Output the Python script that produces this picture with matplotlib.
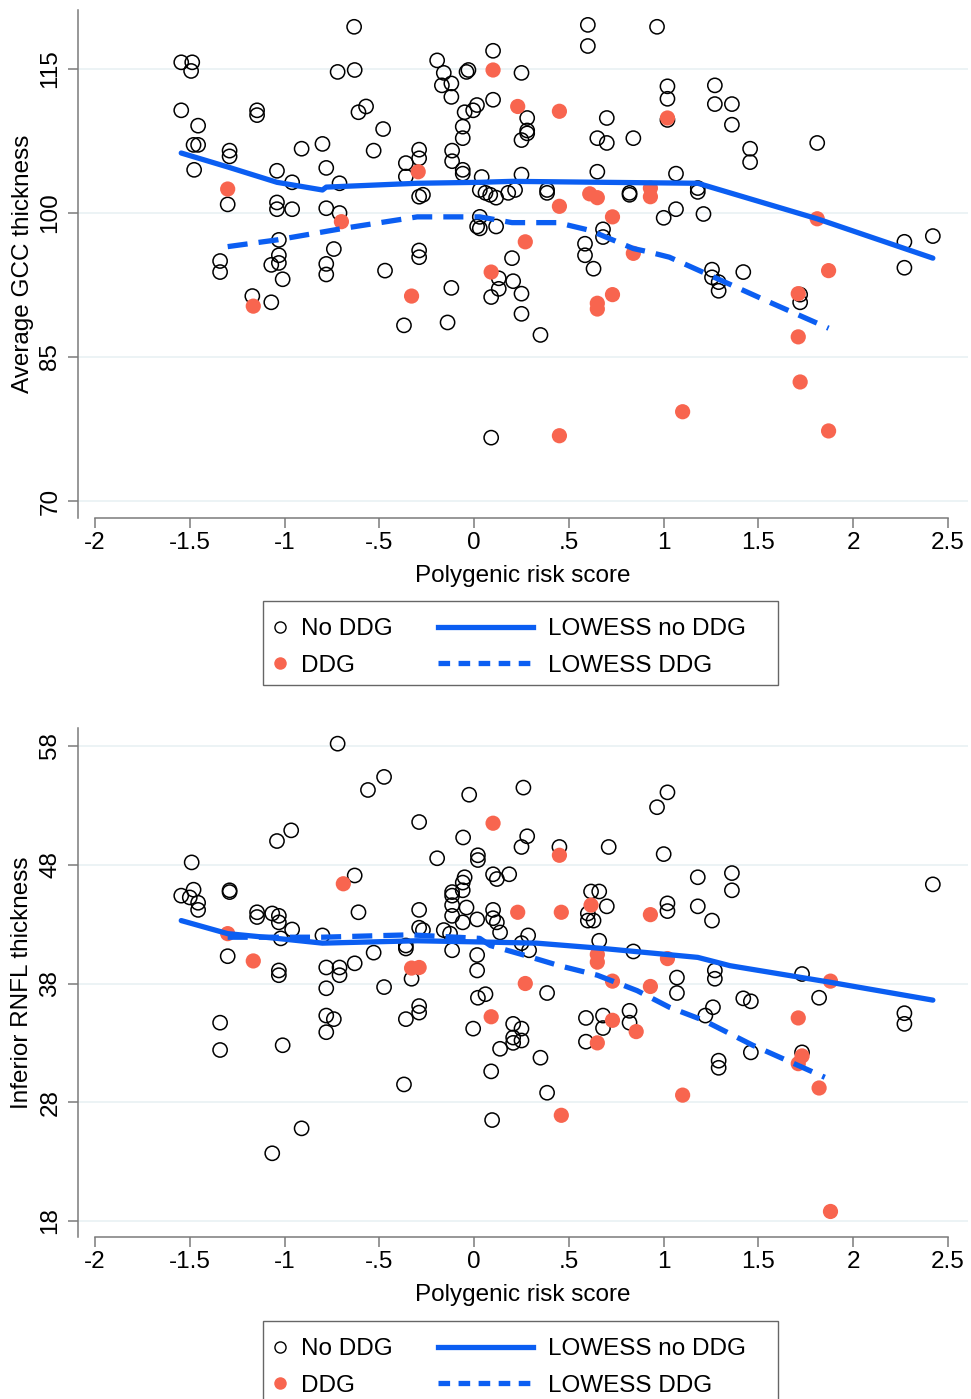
import numpy as np
import matplotlib
matplotlib.use("Agg")
import matplotlib.pyplot as plt
from matplotlib.lines import Line2D
from matplotlib.patches import Rectangle

plt.rcParams['font.family'] = ['Liberation Sans', 'DejaVu Sans']

# ----------------------
# Dados
# ----------------------

# painel superior: Average GCC thickness
gcc_nodd_x = [-0.633, -1.545, -1.487, -1.493, -0.72, -0.63, -0.195, -0.16, -0.12, -0.17, -0.12,
              -0.04, -0.03, -1.545, -1.145, -1.145, -0.61, -0.57, -0.05, -0.005, -0.48, -1.456,
              -0.06, -0.06, -1.48, -1.456, -1.29, -1.29, -0.91, -0.80, -0.53, -0.29, -0.29,
              -0.116, -0.116, -0.36, -1.477, -0.78, -1.04, -0.06, -0.06, -0.36, -0.96, -0.71,
              -1.30, -1.04, -1.04, -0.96, -0.78, -0.71, -0.29, -0.27, -0.74, -1.03, -0.29, -0.29,
              -1.34, -1.34, -1.03, -1.03, -1.07, -1.01, -0.78, -0.78, -0.47, -1.17, -1.07, -0.37,
              -0.14, -0.12,
              0.60, 0.60, 0.965, 0.10, 0.25, 0.10, 0.015, 0.28, 0.28, 0.28, 0.25, 1.02, 1.02, 1.02,
              1.27, 1.27, 1.36, 1.36, 0.70, 0.65, 0.70, 0.84, 1.456, 1.456, 1.81, 0.65, 1.065,
              0.04, 0.25, 0.03, 0.06, 0.085, 0.116, 0.18, 0.216, 0.385, 0.385, 0.82, 0.82, 1.18,
              1.18, 0.03, 0.016, 0.03, 0.116, 1.0, 1.065, 1.21, 0.2, 0.585, 0.585, 0.68, 0.68,
              2.27, 2.27, 2.42,
              0.206, 0.13, 0.13, 0.09, 0.25, 0.25, 0.35, 0.63, 1.255, 1.255, 1.29, 1.29, 1.42,
              1.72, 1.72, 0.09]
gcc_nodd_y = [119.4, 115.7, 115.7, 114.8, 114.7, 114.9, 115.9, 114.6, 113.5, 113.3, 112.1,
              114.7, 114.9, 110.7, 110.7, 110.2, 110.5, 111.1, 110.5, 110.7, 108.75, 109.1,
              109.0, 107.8, 107.1, 107.1, 106.5, 105.9, 106.7, 107.2, 106.5, 106.6, 105.7,
              106.5, 105.4, 105.2, 104.5, 104.7, 104.4, 104.5, 104.1, 103.8, 103.2, 103.1,
              100.9, 101.1, 100.4, 100.4, 100.5, 100.0, 101.7, 101.9, 96.25, 97.2, 96.1, 95.4,
              95.0, 93.85, 95.6, 94.8, 94.6, 93.1, 94.7, 93.6, 94.0, 91.35, 90.7, 88.3,
              88.6, 92.2,
              119.6, 117.4, 119.4, 116.9, 114.6, 111.8, 111.25, 109.9, 108.6, 108.3, 107.6, 113.2,
              111.9, 109.7, 113.3, 111.35, 111.35, 109.2, 109.9, 107.8, 107.3, 107.8, 106.7,
              105.3, 107.3, 104.3, 104.1, 103.75, 104.0, 102.4, 102.1, 101.9, 101.6, 102.1, 102.4,
              102.4, 102.1, 102.1, 101.9, 102.6, 102.2, 99.6, 98.6, 98.4, 98.6, 99.5, 100.4, 99.9,
              95.3, 96.8, 95.6, 98.3, 97.5, 97.0, 94.3, 97.6,
              92.9, 93.2, 92.1, 91.25, 91.6, 89.5, 87.3, 94.2, 94.1, 93.3, 92.8, 91.9, 93.85,
              91.5, 90.7, 76.6]

gcc_ddg_x = [-1.30, -0.70, -0.295, -1.165, -0.33, 0.10, 0.23, 0.45, 1.02, 0.45, 0.61, 0.65,
             0.93, 0.93, 0.73, 1.81, 0.27, 0.84, 0.09, 0.65, 0.65, 0.73, 1.87, 1.71, 1.71, 1.72,
             1.10, 0.45, 1.87]
gcc_ddg_y = [102.5, 99.1, 104.3, 90.3, 91.35, 114.9, 111.1, 110.6, 109.9, 100.7, 102.0, 101.6,
             102.6, 101.7, 99.6, 99.4, 97.0, 95.8, 93.85, 90.6, 90.0, 91.5, 94.0, 91.6, 87.1, 82.4,
             79.3, 76.8, 77.3]

gcc_low_nodd_x = [-1.545, -1.30, -1.04, -0.80, -0.78, -0.30, 0.03, 0.2, 0.68, 1.18, 1.81, 2.42]
gcc_low_nodd_y = [106.25, 104.8, 103.2, 102.4, 102.7, 103.1, 103.2, 103.3, 103.2, 103.1, 99.4, 95.3]
gcc_low_ddg_x = [-1.30, -1.04, -0.69, -0.30, 0.03, 0.2, 0.44, 0.61, 0.84, 0.91, 1.03, 1.245, 1.56, 1.87]
gcc_low_ddg_y = [96.5, 97.2, 98.4, 99.6, 99.6, 99.0, 99.0, 98.2, 96.3, 96.0, 95.4, 93.5, 90.7, 88.0]

# painel inferior: Inferior RNFL thickness
rnfl_nodd_x = [-0.72, -0.475, -0.56, -0.026, -0.29, -0.965, -1.04, -0.058, -0.195, 0.02, 0.02,
               -1.49, -0.63, -0.05, -0.06, -0.06, -0.116, -0.116, -0.116, -0.04, -0.116, -0.06,
               0.016, -1.545, -1.48, -1.50, -1.456, -1.456, -1.29, -1.29, -0.61, -1.145, -1.145,
               -1.065, -1.03, -1.03, -0.96, -0.29, -0.29, -0.27, -0.16, -0.127, -0.80, -1.02,
               -0.36, -0.36, -0.53, -0.116, 0.016, -1.30, -0.78, -0.71, -0.63, -0.71, -1.03,
               -1.03, 0.016, -0.33, -0.78, -0.475,
               -1.34, -1.34, -1.01, -0.78, -0.74, -0.78, -0.29, -0.29, -0.36, 0.02, -0.005,
               -0.37, -0.91, -1.065,
               0.26, 1.02, 0.965, 0.28, 0.25, 0.45, 0.71, 1.0, 0.10, 0.12, 0.185, 1.18, 1.36,
               1.36, 2.42, 0.10, 0.10, 0.12, 0.137, 0.617, 0.66, 0.70, 0.60, 0.60, 0.63, 1.02,
               1.02, 1.18, 1.255, 0.285, 0.25, 0.29, 0.66, 0.84, 1.07, 1.27, 1.27, 1.73,
               0.385, 0.06, 0.206, 0.25, 0.206, 0.206, 0.25, 0.137, 0.09, 0.35, 0.385, 0.095,
               0.59, 0.59, 0.68, 0.68, 0.82, 0.82, 1.07, 1.26, 1.22, 1.42, 1.46, 1.82, 1.46,
               1.29, 1.29, 1.73, 2.27, 2.27]
rnfl_nodd_y = [58.2, 55.4, 54.3, 53.9, 51.6, 50.9, 50.0, 50.3, 48.55, 48.8, 48.4,
               48.2, 47.1, 46.95, 46.5, 45.85, 45.7, 45.4, 44.6, 44.4, 43.7, 43.15,
               43.4, 45.4, 45.9, 45.25, 44.8, 44.2, 45.85, 45.7, 44.0, 44.0, 43.6,
               43.9, 43.7, 43.15, 42.55, 44.2, 42.7, 42.5, 42.5, 42.2, 42.05, 41.8,
               41.2, 40.95, 40.6, 40.8, 40.4, 40.3, 39.35, 39.35, 39.7, 38.7, 39.1,
               38.7, 39.1, 38.4, 37.6, 37.7,
               34.7, 32.4, 32.8, 35.3, 35.0, 33.9, 36.1, 35.55, 35.0, 36.8, 34.2,
               29.5, 25.8, 23.7,
               54.5, 54.1, 52.85, 50.4, 49.5, 49.5, 49.5, 48.9, 47.2, 46.8, 47.2, 46.95, 47.3,
               45.85, 46.35, 44.2, 43.5, 43.15, 42.3, 45.75, 45.75, 44.5, 43.9, 43.3, 43.3, 44.75,
               44.1, 44.5, 43.3, 42.05, 41.4, 40.8, 41.6, 40.7, 38.5, 39.1, 38.4, 38.8,
               37.2, 37.1, 34.6, 34.2, 33.45, 33.0, 33.2, 32.5, 30.6, 31.75, 28.8, 26.5,
               35.1, 33.1, 35.3, 34.25, 35.7, 34.7, 37.2, 36.0, 35.3, 36.75, 36.5, 36.8, 32.2,
               31.5, 30.9, 32.2, 35.5, 34.6]

rnfl_ddg_x = [-0.69, -1.30, -1.165, -0.33, -0.29, 0.10, 0.45, 0.23, 0.46, 0.617, 0.93, 0.65,
              0.65, 1.02, 1.88, 0.27, 0.73, 0.93, 0.09, 0.73, 0.855, 0.65, 1.71, 1.73, 1.71,
              1.82, 1.10, 0.46, 1.88]
rnfl_ddg_y = [46.4, 42.2, 39.9, 39.3, 39.35, 51.5, 48.8, 44.0, 44.0, 44.6, 43.8, 40.45,
              39.8, 40.1, 38.2, 38.0, 38.2, 37.75, 35.2, 34.9, 33.95, 33.0, 35.1, 31.9, 31.25,
              29.2, 28.6, 26.9, 18.8]

rnfl_low_nodd_x = [-1.545, -1.30, -1.04, -0.80, -0.30, 0.03, 0.33, 0.68, 1.18, 1.35, 1.88, 2.42]
rnfl_low_nodd_y = [43.3, 42.2, 41.8, 41.4, 41.6, 41.5, 41.4, 40.95, 40.2, 39.5, 38.1, 36.6]
rnfl_low_ddg_x = [-1.30, -0.80, -0.34, 0.03, 0.085, 0.24, 0.45, 0.65, 0.86, 1.03, 1.21, 1.47, 1.85]
rnfl_low_ddg_y = [41.9, 41.9, 42.1, 41.8, 41.2, 40.5, 39.5, 38.7, 37.4, 36.0, 34.9, 32.8, 30.1]

xticks = [-2, -1.5, -1, -0.5, 0, 0.5, 1, 1.5, 2, 2.5]
xtick_labels = ['-2', '-1.5', '-1', '-.5', '0', '.5', '1', '1.5', '2', '2.5']
gcc_yticks = [70, 85, 100, 115]
rnfl_yticks = [18, 28, 38, 48, 58]

# ----------------------
# Estilo
# ----------------------

RED = '#f8654f'
BLUE = '#0b5ef2'
GRID = '#e9f1f3'
AXC = '#7a7a7a'
FS = 17.5

W, H = 971, 1399
fig = plt.figure(figsize=(W / 100, H / 100), dpi=100)


def px_box(left, top, right, bottom):
    return [left / W, 1 - bottom / H, (right - left) / W, (bottom - top) / H]


def painel(box, ylim, yticks, ylabel, nodd, ddg, low_nodd, low_ddg):
    ax = fig.add_axes(box)
    ax.scatter(nodd[0], nodd[1], s=105, facecolors='none', edgecolors='black', linewidths=1.1, zorder=3)
    ax.scatter(ddg[0], ddg[1], s=120, color=RED, edgecolors='none', zorder=4)
    ax.plot(low_nodd[0], low_nodd[1], color=BLUE, lw=3.8, solid_capstyle='round', zorder=5)
    ax.plot(low_ddg[0], low_ddg[1], color=BLUE, lw=3.8, dashes=(3.8, 2.1), zorder=5)

    ax.set_xlim(-2 - 17 / 189.6, 2.5 + 20 / 189.6)
    ax.set_ylim(*ylim)
    ax.set_xticks(xticks)
    ax.set_xticklabels(xtick_labels)
    ax.set_yticks(yticks)
    ax.set_yticklabels([str(t) for t in yticks], rotation=90, va='center')
    for t in yticks:
        ax.axhline(t, color=GRID, lw=1.2, zorder=0)

    for s in ['top', 'right']:
        ax.spines[s].set_visible(False)
    for s in ['left', 'bottom']:
        ax.spines[s].set_color(AXC)
        ax.spines[s].set_linewidth(1.1)
    ax.spines['bottom'].set_bounds(-2, 2.5)
    ax.tick_params(length=7, width=1.1, color=AXC, labelsize=FS, pad=3)
    ax.tick_params(axis='y', pad=5)

    ax.set_xlabel('Polygenic risk score', fontsize=FS)
    ax.set_ylabel(ylabel, fontsize=FS)
    ax.xaxis.set_label_coords(0.5, -0.092)
    ax.yaxis.set_label_coords(-0.05, 0.5)
    return ax


def legenda(top):
    h_nodd = Line2D([], [], ls='none', marker='o', ms=8, mfc='none', mec='black', mew=1.0)
    h_ddg = Line2D([], [], ls='none', marker='o', ms=9, mfc=RED, mec='none')
    h_low = Line2D([], [], color=BLUE, lw=3.8)
    h_lowd = Line2D([], [], color=BLUE, lw=3.8, dashes=(2.2, 1.6))
    kw = dict(frameon=False, borderpad=0, borderaxespad=0, fontsize=FS,
              labelspacing=0.6, loc='upper left')
    fig.legend([h_nodd, h_ddg], ['No DDG', 'DDG'], handlelength=1.0, handletextpad=0.37,
               bbox_to_anchor=(268 / W, 1 - (top + 17) / H), **kw)
    fig.legend([h_low, h_lowd], ['LOWESS no DDG', 'LOWESS DDG'], handlelength=3.9,
               handletextpad=0.62, bbox_to_anchor=(438 / W, 1 - (top + 17) / H), **kw)
    fig.add_artist(Rectangle((263 / W, 1 - (top + 84) / H), 515 / W, 84 / H,
                             transform=fig.transFigure, fill=False, ec='#666666', lw=1.0))


# ----------------------
# Gráficos
# ----------------------

painel(px_box(78, 10, 968, 518), (68.23, 121.15), gcc_yticks, 'Average GCC thickness',
       (gcc_nodd_x, gcc_nodd_y), (gcc_ddg_x, gcc_ddg_y),
       (gcc_low_nodd_x, gcc_low_nodd_y), (gcc_low_ddg_x, gcc_low_ddg_y))
legenda(601)

painel(px_box(78, 728, 968, 1237), (16.65, 59.52), rnfl_yticks, 'Inferior RNFL thickness',
       (rnfl_nodd_x, rnfl_nodd_y), (rnfl_ddg_x, rnfl_ddg_y),
       (rnfl_low_nodd_x, rnfl_low_nodd_y), (rnfl_low_ddg_x, rnfl_low_ddg_y))
legenda(1321)

fig.savefig('out.png', dpi=100)
